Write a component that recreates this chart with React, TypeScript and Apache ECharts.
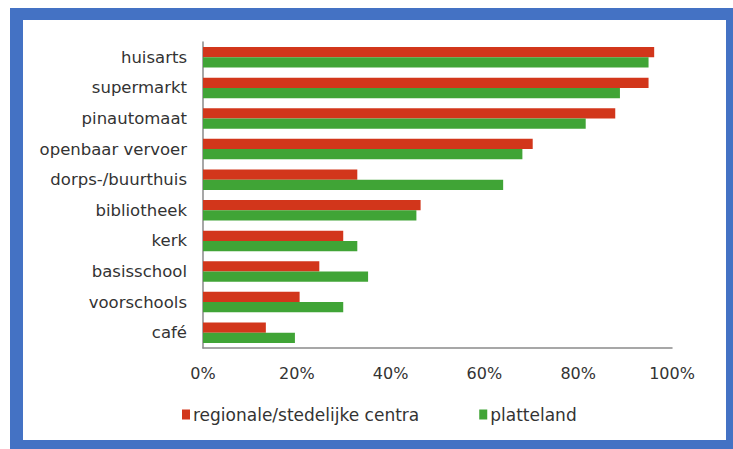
import React, { useEffect, useRef } from "react";
import * as echarts from "echarts";

const categories = [
  "huisarts",
  "supermarkt",
  "pinautomaat",
  "openbaar vervoer",
  "dorps-/buurthuis",
  "bibliotheek",
  "kerk",
  "basisschool",
  "voorschools",
  "café",
];
const regionaleValues = [96.2, 95.0, 87.9, 70.3, 32.9, 46.4, 29.9, 24.8, 20.6, 13.4];
const plattelandValues = [95.0, 88.9, 81.6, 68.1, 64.0, 45.5, 32.9, 35.2, 29.9, 19.6];
const seriesNames = ["regionale/stedelijke centra", "platteland"];
const xTicks = [0, 20, 40, 60, 80, 100];

export default function App() {
  const ref = useRef<HTMLDivElement>(null);
  useEffect(() => {
    document.body.style.margin = "0";
    const chart = echarts.init(ref.current!, null, { renderer: "svg" });
    const font = "DejaVu Sans";
    chart.setOption({
      animation: false,
      backgroundColor: "#ffffff",
      textStyle: { fontFamily: font },
      graphic: [
        { type: "rect", z: -10, shape: { x: 10, y: 8, width: 723, height: 441 }, style: { fill: "#4472C4" } },
        { type: "rect", z: -9, shape: { x: 23, y: 20, width: 703, height: 420 }, style: { fill: "#ffffff" } },
      ],
      grid: { left: 203, right: 61, top: 42, bottom: 101, containLabel: false },
      legend: {
        data: seriesNames,
        left: 177,
        top: 401,
        itemWidth: 8,
        itemHeight: 10,
        itemGap: 60,
        icon: "rect",
        textStyle: { fontFamily: font, fontSize: 17, color: "#333333", padding: [0, 0, 0, -2] },
      },
      xAxis: {
        type: "value",
        min: 0,
        max: 100,
        interval: 20,
        axisLine: { show: true, lineStyle: { color: "#8a8a8a", width: 1.5 } },
        axisTick: { show: false },
        splitLine: { show: false },
        axisLabel: {
          fontFamily: font,
          fontSize: 16,
          color: "#333333",
          margin: 17,
          formatter: (v: number) => (xTicks.includes(v) ? v + "%" : ""),
        },
      },
      yAxis: {
        type: "category",
        inverse: true,
        data: categories,
        axisLine: { show: true, lineStyle: { color: "#8a8a8a", width: 1.5 } },
        axisTick: { show: false },
        axisLabel: { fontFamily: font, fontSize: 16.5, color: "#333333", margin: 16 },
      },
      series: [
        {
          name: seriesNames[0],
          type: "bar",
          data: regionaleValues,
          itemStyle: { color: "#D2361B" },
          barGap: "0%",
          barCategoryGap: "33%",
        },
        {
          name: seriesNames[1],
          type: "bar",
          data: plattelandValues,
          itemStyle: { color: "#40A436" },
          barGap: "0%",
          barCategoryGap: "33%",
        },
      ],
    });
    return () => chart.dispose();
  }, []);
  return <div ref={ref} style={{ width: 733, height: 449 }} />;
}
